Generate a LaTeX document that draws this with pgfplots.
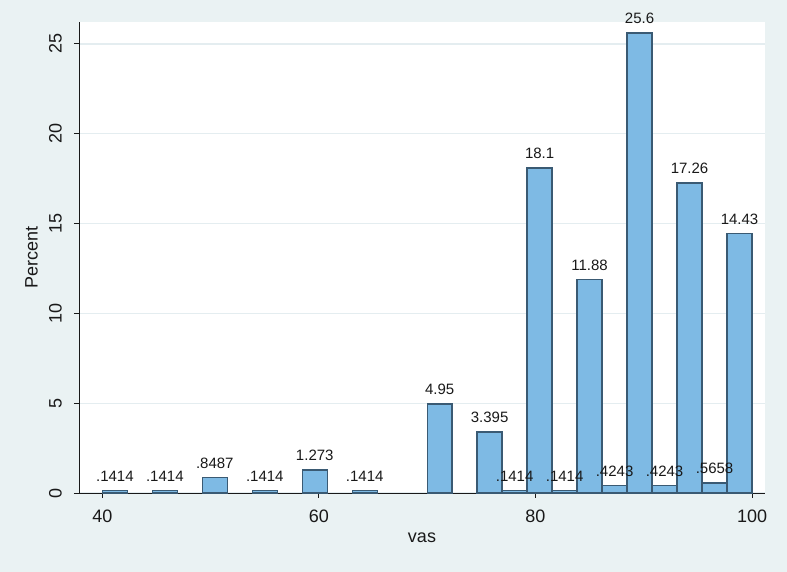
\documentclass[border=0pt]{standalone}
\usepackage{fontspec}
\setmainfont{Liberation Sans}
\usepackage{pgfplots}
\usepackage{pgfplotstable}
\pgfplotsset{compat=1.18}
\definecolor{sBg}{RGB}{234,242,243}
\definecolor{sGrid}{RGB}{228,237,240}
\definecolor{sBar}{RGB}{126,186,228}
\definecolor{sEdge}{RGB}{58,90,115}
\definecolor{sText}{RGB}{25,25,25}

% bin centres (bin width 60/26), percent, printed label
\pgfplotstableread{
x y lab
41.154 0.1414 .1414
45.769 0.1414 .1414
50.385 0.8487 .8487
55.000 0.1414 .1414
59.615 1.273 1.273
64.231 0.1414 .1414
71.154 4.95 4.95
75.769 3.395 3.395
78.077 0.1414 .1414
80.385 18.1 18.1
82.692 0.1414 .1414
85.000 11.88 11.88
87.308 0.4243 .4243
89.615 25.6 25.6
91.923 0.4243 .4243
94.231 17.26 17.26
96.538 0.5658 .5658
98.846 14.43 14.43
}\vasdata

\begin{document}
\begin{tikzpicture}
\fill[sBg] (0,0) rectangle (787pt,572pt);
\begin{axis}[
  at={(79pt,79pt)}, anchor=south west,
  scale only axis, width=686pt, height=471pt,
  axis background/.style={fill=white},
  xmin=37.84, xmax=101.2, ymin=0, ymax=26.22,
  axis x line*=bottom, axis y line*=left,
  axis line style={draw=sText, line width=0.9pt},
  xtick={40,60,80,100}, ytick={0,5,10,15,20,25},
  tick align=outside, major tick length=5pt,
  tick style={draw=sText, line width=0.9pt},
  /pgf/number format/assume math mode=true,
  ticklabel style={font=\fontsize{18}{20}\selectfont, text=sText, inner sep=0pt},
  xticklabel style={anchor=north, yshift=-12pt},
  yticklabel style={rotate=90, anchor=south, yshift=12pt},
  ymajorgrids, grid style={draw=sGrid, line width=1.3pt},
  xlabel={vas}, ylabel={Percent},
  label style={font=\fontsize{18}{20}\selectfont, text=sText},
  xlabel style={at={(axis description cs:0.5,-0.0955)}, anchor=center},
  ylabel style={at={(axis description cs:-0.0692,0.5)}, anchor=center},
  clip=false,
]
\addplot[ybar, bar width=2.3077, bar shift=0pt, fill=sBar, draw=sEdge, line width=1.4pt,
  point meta=explicit symbolic, nodes near coords,
  nodes near coords style={font=\fontsize{15}{17}\selectfont, text=sText, anchor=south, inner sep=0pt, yshift=8.5pt}]
  table[x=x, y=y, meta=lab] {\vasdata};
\end{axis}
\end{tikzpicture}
\end{document}
